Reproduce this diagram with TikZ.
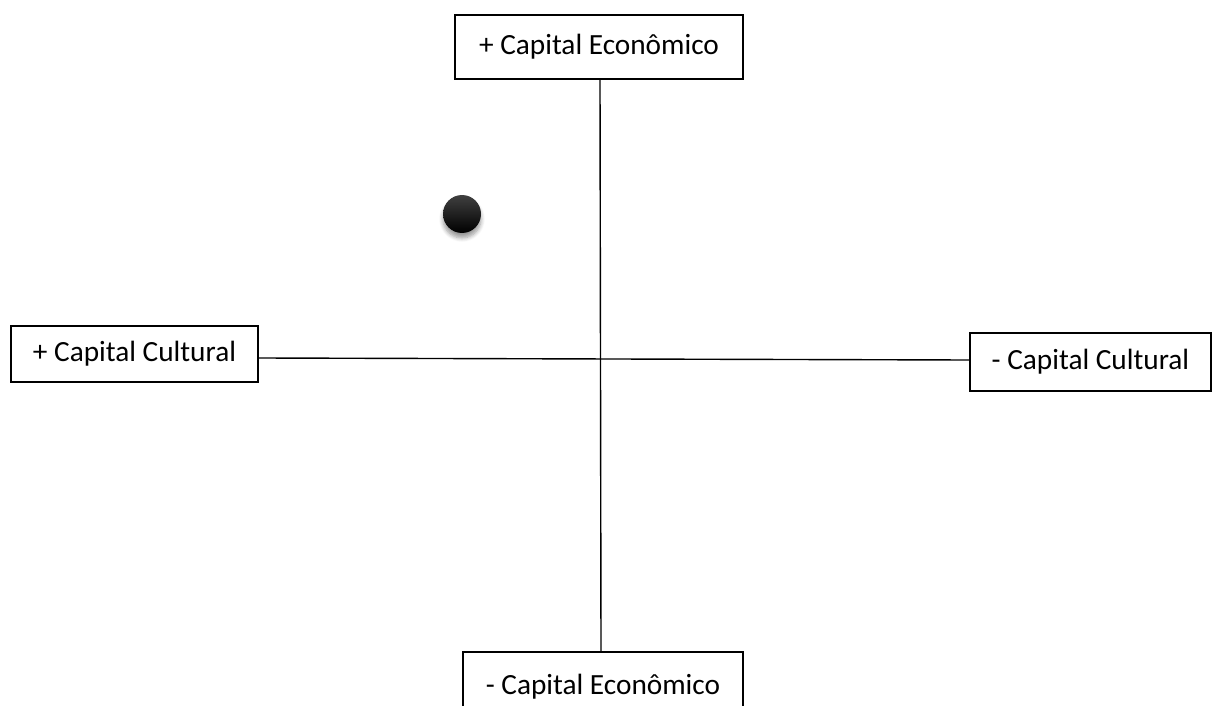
\documentclass[tikz,border=0pt]{standalone}
\usepackage{fontspec}
\setmainfont{Carlito}
\usetikzlibrary{shadows.blur}
\begin{document}
\begin{tikzpicture}[x=1pt,y=-1pt,
  lbl/.style={draw=black, line width=1.6pt, fill=white, inner sep=0pt, font=\fontsize{29.3}{35}\selectfont},
  axis/.style={draw=black, line width=1.4pt}]
\useasboundingbox (0,0) rectangle (1213,706);
\clip (0,0) rectangle (1213,706);
\node[lbl, minimum width=288, minimum height=64] (top) at (599,47) {+ Capital Econômico};
\node[lbl, minimum width=280, minimum height=64, text depth=0pt] (bot) at (603,684) {- Capital Econômico};
\node[lbl, minimum width=247, minimum height=56] (left) at (134.5,354) {+ Capital Cultural};
\node[lbl, minimum width=241, minimum height=58] (right) at (1090.5,362) {- Capital Cultural};
\draw[axis] ([xshift=1pt]top.south) -- ([xshift=-2pt]bot.north);
\draw[axis] ([yshift=-4pt]left.east) -- ([yshift=2pt]right.west);
\node[circle, minimum size=38, inner sep=0pt, top color=black!75, bottom color=black, shading angle=0,
  blur shadow={shadow xshift=0pt, shadow yshift=-5pt, shadow blur steps=6, shadow blur radius=4pt, shadow opacity=40}] (dot) at (462,214) {};
\end{tikzpicture}
\end{document}
